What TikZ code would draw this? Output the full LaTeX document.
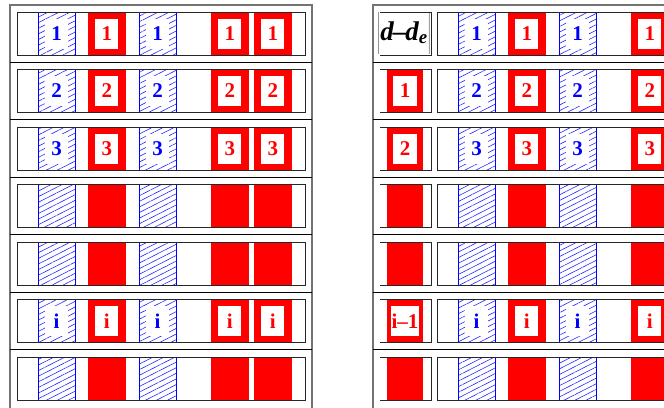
\documentclass[tikz,border=0pt]{standalone}
\usepackage{fontspec}
\setmainfont{Liberation Serif}
\usetikzlibrary{patterns.meta}
\begin{document}
\begin{tikzpicture}[x=1pt,y=-1pt,
  frame/.style={draw=black!55,line width=1.3pt},
  sepline/.style={draw=black,line width=0.9pt},
  inbox/.style={draw=black!85,line width=0.9pt},
  hatch/.style={draw=blue,line width=0.6pt,pattern={Lines[angle=27,distance=5pt,line width=0.6pt]},pattern color=blue!85},
  redbox/.style={fill=red},
  lab/.style={fill=white,minimum width=23pt,minimum height=30pt,inner sep=1pt,
    font=\bfseries\fontsize{21}{21}\selectfont}]
\useasboundingbox (0,0) rectangle (664,407);
% outer frames
\draw[frame] (10,410) -- (10,5) -- (312,5) -- (312,410);
\draw[frame] (373,410) -- (373,5) -- (670,5);
\foreach \k in {0,...,5}{
  \draw[sepline] (10,62+57.5*\k) -- (312,62+57.5*\k);
  \draw[sepline] (373,62+57.5*\k) -- (670,62+57.5*\k);
}
% rows
\foreach \r/\t in {1/1,2/2,3/3,4/,5/,6/i,7/}{
  \pgfmathsetmacro{\yt}{12+(\r-1)*57.5}
  \pgfmathsetmacro{\yb}{\yt+43}
  \pgfmathsetmacro{\yc}{\yt+21.5}
  \foreach \dx/\p in {0/L,420/R}{
    \foreach \a/\k in {38/1,139/2}{
      \path[hatch] (\a+\dx,\yt) rectangle (\a+37+\dx,\yb);
      \ifx\t\empty\else
        \node[lab,text=blue] (\p\r b\k) at (\a+18.5+\dx,\yc) {\t};
      \fi
    }
    \foreach \a/\k in {88/1,211/2,254/3}{
      \path[redbox] (\a+\dx,\yt) rectangle (\a+37.5+\dx,\yb);
      \ifx\t\empty\else
        \node[lab,text=red] (\p\r r\k) at (\a+18.75+\dx,\yc) {\t};
      \fi
    }
    \draw[inbox] (17+\dx,\yt) rectangle (305+\dx,\yb);
  }
  % label column
  \draw[inbox] (380,\yt) -- (431,\yt) -- (431,\yb) -- (380,\yb);
}
% label column contents
\node[inner sep=0pt,font=\fontsize{27}{27}\selectfont] (lab1) at (404,35)
  {$\left|\vrule width 0pt height 17pt depth 17pt\mbox{\bfseries\itshape d\kern-1pt–\kern-1pt d\textsubscript{e}}\right|$};
\foreach \r/\t in {2/1,3/2,4/,5/,6/i–1,7/}{
  \pgfmathsetmacro{\yt}{12+(\r-1)*57.5}
  \pgfmathsetmacro{\yb}{\yt+43}
  \pgfmathsetmacro{\yc}{\yt+21.5}
  \path[redbox] (387,\yt) rectangle (423,\yb);
  \ifx\t\empty\else
    \node[lab,text=red,minimum width=24pt] (lab\r) at (405,\yc) {\t};
  \fi
  \draw[inbox] (380,\yt) -- (431,\yt) -- (431,\yb) -- (380,\yb);
}
\end{tikzpicture}
\end{document}
